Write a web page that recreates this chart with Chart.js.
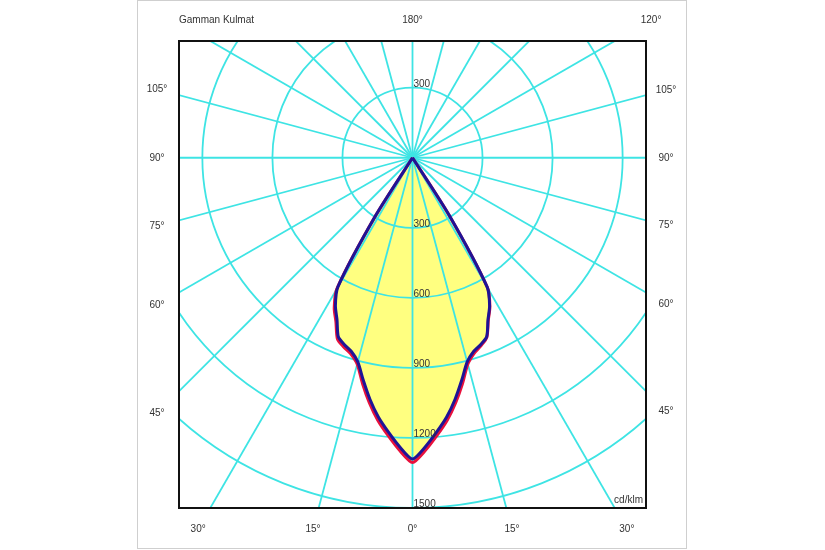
<!DOCTYPE html>
<html>
<head>
<meta charset="utf-8">
<script src="https://cdn.jsdelivr.net/npm/chart.js@4/dist/chart.umd.min.js"></script>
<style>
body { margin: 0; background: #fff; }
canvas { display: block; }
</style>
</head>
<body>
<canvas id="graph" width="825" height="550"></canvas>
<script>
// gamma angles (0 = straight down) and intensities in cd/klm
const gammaList = [0, 2.5, 5, 7.5, 10, 12.5, 15, 17.5, 20, 22.5, 25, 27.5, 30, 32.5, 35, 45, 60, 75, 90, 105, 120, 135, 150, 165, 180];
const c0Values   = [1305, 1255, 1195, 1135, 1065, 990, 915, 878, 857, 832, 768, 718, 642, 292, 0, 0, 0, 0, 0, 0, 0, 0, 0, 0, 0];
const c180Values = [1305, 1255, 1195, 1135, 1065, 990, 915, 880, 862, 840, 776, 726, 648, 295, 0, 0, 0, 0, 0, 0, 0, 0, 0, 0, 0];
const c90Values  = [1290, 1240, 1180, 1120, 1050, 975, 905, 870, 852, 830, 765, 715, 640, 290, 0, 0, 0, 0, 0, 0, 0, 0, 0, 0, 0];
const c270Values = [1290, 1240, 1180, 1120, 1050, 975, 905, 870, 852, 830, 765, 715, 640, 290, 0, 0, 0, 0, 0, 0, 0, 0, 0, 0, 0];

const ringValues = [300, 600, 900, 1200, 1500, 1800];
const ringLabelsDown = [300, 600, 900, 1200, 1500];
const ringLabelsUp = [300];
const spokeStep = 15;
// signed gamma: negative = left half, positive = right half
const angleLabels = [-105, -90, -75, -60, -45, -30, -15, 0, 15, 30, 45, 60, 75, 90, 105, 120, 180];
const titleText = 'Gamman Kulmat';
const unitText = 'cd/klm';

const FONT = '10px "Liberation Sans", Arial, sans-serif';
const CYAN = 'rgb(62, 228, 228)';

// build one C-plane curve: left half from 180 down to 0, right half back up to 180
function planePoints(leftValues, rightValues) {
    let points = [];
    for (let i = gammaList.length - 1; i >= 0; i--) {
        let g = gammaList[i] * Math.PI / 180;
        points.push({x: -leftValues[i] * Math.sin(g), y: -leftValues[i] * Math.cos(g)});
    }
    for (let i = 1; i < gammaList.length; i++) {
        let g = gammaList[i] * Math.PI / 180;
        points.push({x: rightValues[i] * Math.sin(g), y: -rightValues[i] * Math.cos(g)});
    }
    return points;
}

function centerAndScale(chart) {
    let xs = chart.scales.x;
    let ys = chart.scales.y;
    let cx = xs.getPixelForValue(0);
    let cy = ys.getPixelForValue(0);
    let k = (xs.getPixelForValue(1000) - cx) / 1000;
    return {cx: cx, cy: cy, k: k};
}

const polarGrid = {
    id: 'polarGrid',
    beforeDraw(chart) {
        const ctx = chart.ctx;
        ctx.save();
        ctx.fillStyle = '#fff';
        ctx.fillRect(0, 0, chart.width, chart.height);
        ctx.strokeStyle = '#cfcfcf';
        ctx.lineWidth = 1;
        ctx.strokeRect(137.5, 0.5, 549, 548);
        ctx.restore();
    },
    afterDatasetDraw(chart, args) {
        // grid goes over the yellow fill but under the curves
        if (args.index != 0) return;
        const ctx = chart.ctx;
        const area = chart.chartArea;
        const c = centerAndScale(chart);
        ctx.save();
        ctx.beginPath();
        ctx.rect(area.left, area.top, area.right - area.left, area.bottom - area.top);
        ctx.clip();
        ctx.strokeStyle = CYAN;
        ctx.lineWidth = 1.8;
        ringValues.forEach(v => {
            ctx.beginPath();
            ctx.arc(c.cx, c.cy, v * c.k, 0, Math.PI * 2);
            ctx.stroke();
        });
        let len = 2000 * c.k;
        for (let a = 0; a < 360; a += spokeStep) {
            let r = a * Math.PI / 180;
            ctx.beginPath();
            ctx.moveTo(c.cx, c.cy);
            ctx.lineTo(c.cx + len * Math.sin(r), c.cy + len * Math.cos(r));
            ctx.stroke();
        }
        ctx.restore();
    },
    afterDraw(chart) {
        const ctx = chart.ctx;
        const area = chart.chartArea;
        const c = centerAndScale(chart);
        ctx.save();
        // frame
        ctx.strokeStyle = '#111';
        ctx.lineWidth = 2;
        ctx.strokeRect(area.left, area.top, area.right - area.left, area.bottom - area.top);

        ctx.fillStyle = '#333';
        ctx.font = FONT;
        // ring values along the vertical axis
        ctx.textAlign = 'left';
        ctx.textBaseline = 'alphabetic';
        ringLabelsDown.forEach(v => {
            ctx.fillText(String(v), c.cx + 1, c.cy + v * c.k - 1);
        });
        ringLabelsUp.forEach(v => {
            ctx.fillText(String(v), c.cx + 1, c.cy - v * c.k - 1);
        });

        // angle labels sit on a box just outside the frame
        let L = area.left - 22, R = area.right + 20, T = area.top - 21, B = area.bottom + 21;
        ctx.textAlign = 'center';
        ctx.textBaseline = 'middle';
        angleLabels.forEach(g => {
            let r = g * Math.PI / 180;
            let dx = Math.sin(r), dy = Math.cos(r);
            let t = Infinity;
            if (dx > 1e-6) t = Math.min(t, (R - c.cx) / dx);
            if (dx < -1e-6) t = Math.min(t, (L - c.cx) / dx);
            if (dy > 1e-6) t = Math.min(t, (B - c.cy) / dy);
            if (dy < -1e-6) t = Math.min(t, (T - c.cy) / dy);
            ctx.fillText(Math.abs(g) + '°', c.cx + t * dx, c.cy + t * dy);
        });

        ctx.textAlign = 'left';
        ctx.fillText(titleText, area.left, T);
        ctx.textAlign = 'right';
        ctx.textBaseline = 'alphabetic';
        ctx.fillText(unitText, area.right - 3, area.bottom - 5);
        ctx.restore();
    }
};

const redPoints = planePoints(c180Values, c0Values);
const bluePoints = planePoints(c270Values, c90Values);

const config = {
    type: 'scatter',
    data: {
        datasets: [
            {
                label: 'fill',
                data: redPoints,
                showLine: true,
                borderWidth: 0,
                borderColor: 'rgba(0,0,0,0)',
                backgroundColor: 'rgb(255, 255, 128)',
                fill: 'shape',
                tension: 0.25,
                pointRadius: 0,
                order: 3
            },
            {
                label: 'C0-C180',
                data: redPoints,
                showLine: true,
                borderColor: 'rgb(232, 16, 60)',
                borderWidth: 3,
                borderJoinStyle: 'round',
                tension: 0.25,
                pointRadius: 0,
                fill: false,
                order: 2
            },
            {
                label: 'C90-C270',
                data: bluePoints,
                showLine: true,
                borderColor: 'rgb(30, 20, 150)',
                borderWidth: 3,
                borderJoinStyle: 'round',
                tension: 0.25,
                pointRadius: 0,
                fill: false,
                order: 1
            }
        ]
    },
    options: {
        responsive: false,
        animation: false,
        layout: {
            padding: {left: 179, right: 179, top: 41, bottom: 42}
        },
        plugins: {
            legend: {display: false},
            tooltip: {enabled: false}
        },
        scales: {
            x: {type: 'linear', min: -1000, max: 1000, display: false},
            y: {type: 'linear', min: -1500, max: 500, display: false}
        }
    },
    plugins: [polarGrid]
};

var ctx = document.getElementById('graph').getContext('2d');
var graph = new Chart(ctx, config);
</script>
</body>
</html>
